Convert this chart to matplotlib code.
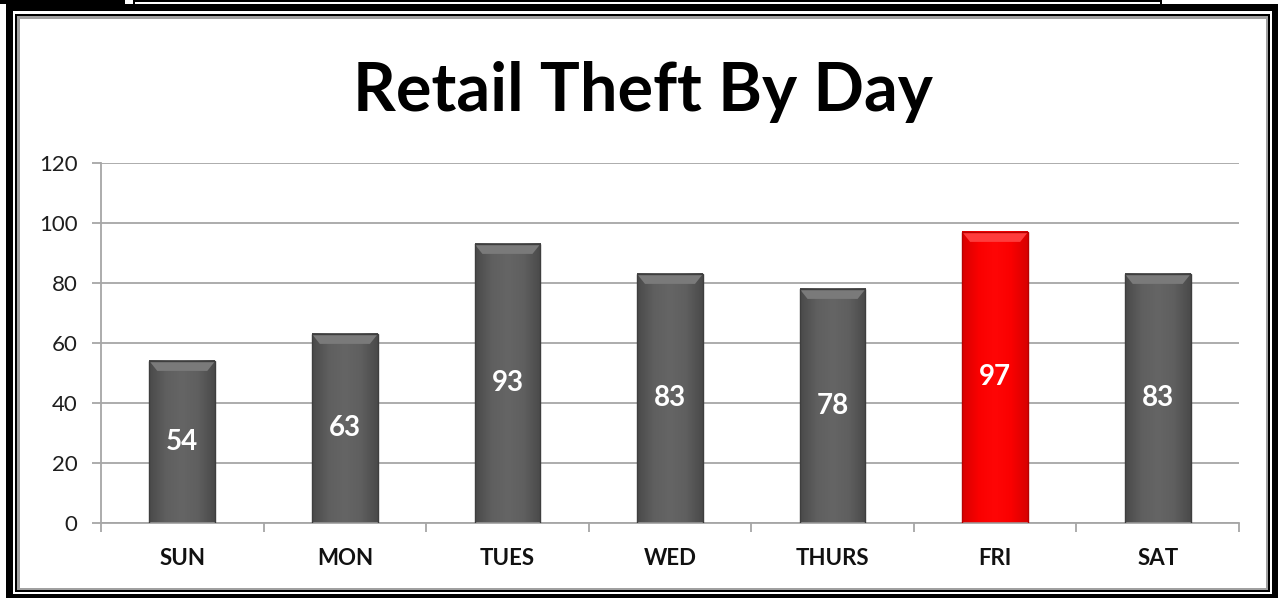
import matplotlib as mpl
import matplotlib.pyplot as plt
import numpy as np
from matplotlib.colors import LinearSegmentedColormap
from matplotlib.patches import Rectangle, Polygon

mpl.use("Agg")
plt.rcParams['font.family'] = ['Lato', 'DejaVu Sans']

days = ["SUN", "MON", "TUES", "WED", "THURS", "FRI", "SAT"]
thefts = [54, 63, 93, 83, 78, 97, 83]
highlight = "FRI"
y_ticks = [0, 20, 40, 60, 80, 100, 120]

W, H = 1278, 598
GRID = "#a6a6a6"


def px_rect(fig, x, y, w, h, color, z):
    # pixel box (from top-left) -> figure fraction rectangle
    r = Rectangle((x / W, 1 - (y + h) / H), w / W, h / H, transform=fig.transFigure,
                  facecolor=color, edgecolor="none", zorder=z)
    fig.add_artist(r)


fig = plt.figure(figsize=(W / 100, H / 100), dpi=100)
fig.patch.set_facecolor("white")

# frame: thick black, white gap, thin black, gray
px_rect(fig, 6, 4, 1272, 594, "black", -10)
px_rect(fig, 13, 11, 1259, 583, "white", -9)
px_rect(fig, 15, 14, 1255, 578, "black", -8)
px_rect(fig, 17, 16, 1251, 574, "#a0a0a0", -7)
px_rect(fig, 20, 19, 1246, 569, "white", -6)
# bits of the box above the chart
px_rect(fig, 0, 0, 125, 4, "black", -5)
px_rect(fig, 133, 0, 1029, 1.5, "black", -5)
px_rect(fig, 133, 0, 1.5, 4, "black", -5)
px_rect(fig, 1160, 0, 1.5, 4, "black", -5)

ax = fig.add_axes([101 / W, 1 - 523 / H, (1239 - 101) / W, (523 - 163) / H])
ax.patch.set_visible(False)

x = np.arange(len(days))
colors = ["#ff0000" if d == highlight else "#5c5c5c" for d in days]
bars = ax.bar(x, thefts, width=0.405, color=colors, edgecolor="none", zorder=2)

gray_cm = LinearSegmentedColormap.from_list("g", ["#4a4a4a", "#5f5f5f", "#656565", "#5f5f5f", "#4a4a4a"])
red_cm = LinearSegmentedColormap.from_list("r", ["#d80000", "#fa0000", "#ff0606", "#fa0000", "#d80000"])
grad = np.linspace(0, 1, 64).reshape(1, -1)

for b, d, v in zip(bars, days, thefts):
    bx, bw, bh = b.get_x(), b.get_width(), b.get_height()
    cm = red_cm if d == highlight else gray_cm
    ax.imshow(grad, extent=(bx, bx + bw, 0, bh), aspect="auto", cmap=cm, zorder=2.5,
              interpolation="bicubic")
    top = "#ff3c3c" if d == highlight else "#7a7a7a"
    bev = 3.3
    ins = bw * 0.12
    ax.add_patch(Polygon([(bx, bh), (bx + bw, bh), (bx + bw - ins, bh - bev), (bx + ins, bh - bev)],
                         closed=True, facecolor=top, edgecolor="none", zorder=3))
    edge = "#b80000" if d == highlight else "#3e3e3e"
    ax.add_patch(Rectangle((bx, 0), bw, bh, facecolor="none", edgecolor=edge, linewidth=1, zorder=3.5))
    ax.text(bx + bw / 2, bh / 2, str(v), ha="center", va="center", color="white",
            fontsize=20, fontweight="bold", zorder=4)

ax.set_xlim(-0.5, len(days) - 0.5)
ax.set_ylim(0, 120)
ax.set_yticks(y_ticks)
ax.yaxis.grid(True, color=GRID, linewidth=1.3, zorder=0)
ax.set_axisbelow(True)

ax.set_xticks(x, days)
ax.set_xticks(np.arange(len(days) + 1) - 0.5, minor=True)
ax.tick_params(axis="x", which="major", length=0, pad=18, labelsize=16, labelcolor="#111111")
for lab in ax.get_xticklabels():
    lab.set_fontweight("bold")
ax.tick_params(axis="x", which="minor", length=6.5, width=1.3, color=GRID)
ax.tick_params(axis="y", length=6.5, width=1.3, color=GRID, pad=10.5, labelsize=16,
               labelcolor="#1e1e1e")

for s in ["top", "right"]:
    ax.spines[s].set_visible(False)
for s in ["left", "bottom"]:
    ax.spines[s].set_color(GRID)
    ax.spines[s].set_linewidth(1.3)

fig.text(643 / W, 1 - 111 / H, "Retail Theft By Day", ha="center", va="baseline",
         fontsize=48, fontweight="bold", color="black")

fig.savefig("out.png", dpi=100)
